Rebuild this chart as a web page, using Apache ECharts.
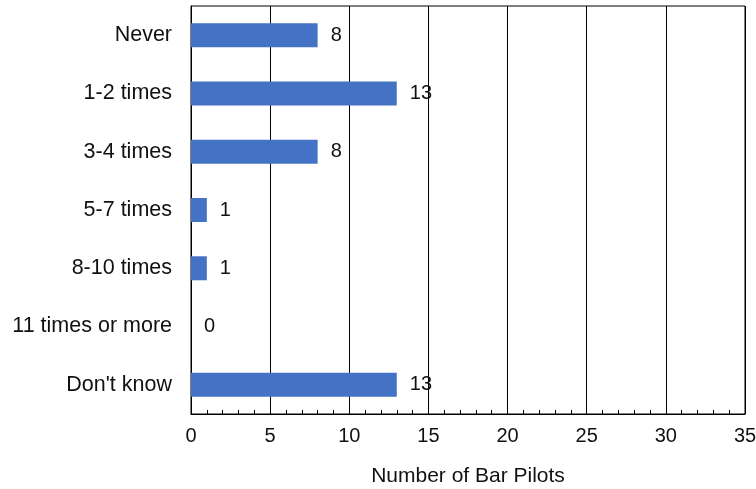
<!DOCTYPE html>
<html>
<head>
<meta charset="utf-8">
<script src="https://cdn.jsdelivr.net/npm/echarts@6/dist/echarts.min.js"></script>
<style>
html,body{margin:0;padding:0;background:#fff;}
#chart{width:756px;height:489px;}
</style>
</head>
<body>
<div id="chart"></div>
<script>
var categories = ["Never", "1-2 times", "3-4 times", "5-7 times", "8-10 times", "11 times or more", "Don't know"];
var values = [8, 13, 8, 1, 1, 0, 13];
var xAxisTitle = "Number of Bar Pilots";
var xMin = 0, xMax = 35, xInterval = 5;

var chart = echarts.init(document.getElementById('chart'), null, {renderer: 'canvas'});
var font = 'Liberation Sans, Arial, sans-serif';
chart.setOption({
  animation: false,
  backgroundColor: '#ffffff',
  grid: {
    left: 191, top: 6, right: 11, bottom: 75,
    containLabel: false,
    outerBoundsMode: 'none',
    show: true, borderColor: '#000', borderWidth: 1, backgroundColor: 'transparent'
  },
  xAxis: {
    type: 'value',
    min: xMin, max: xMax, interval: xInterval,
    name: xAxisTitle,
    nameLocation: 'middle',
    nameGap: 52,
    nameTextStyle: {color: '#111', fontSize: 21, fontFamily: font},
    axisLine: {show: true, lineStyle: {color: '#000', width: 1}},
    axisTick: {show: true, inside: true, length: 5, lineStyle: {color: '#000'}},
    minorTick: {show: true, splitNumber: 5, length: 4, lineStyle: {color: '#000'}},
    axisLabel: {color: '#111', fontSize: 20, fontFamily: font, margin: 12},
    splitLine: {show: true, lineStyle: {color: '#000', width: 1}}
  },
  yAxis: {
    type: 'category',
    data: categories,
    inverse: true,
    axisLine: {show: true, lineStyle: {color: '#000', width: 1}},
    axisTick: {show: false},
    axisLabel: {color: '#111', fontSize: 21.5, fontFamily: font, margin: 19},
    splitLine: {show: false}
  },
  series: [{
    type: 'bar',
    data: values,
    barWidth: 24,
    itemStyle: {color: '#4472C4'},
    label: {
      show: true, position: 'right', distance: 13,
      color: '#111', fontSize: 20, fontFamily: font
    }
  }]
});
</script>
</body>
</html>
